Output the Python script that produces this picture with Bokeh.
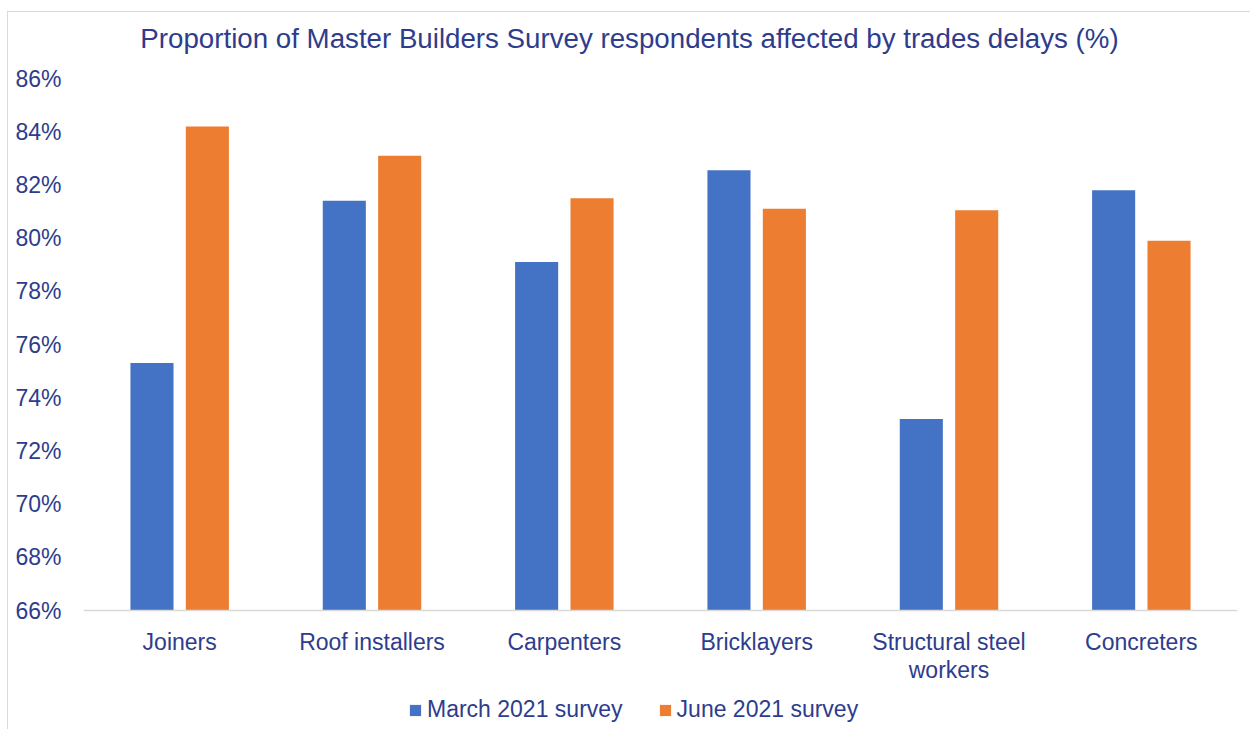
from bokeh.plotting import figure
from bokeh.models import FactorRange, Range1d, FixedTicker, PrintfTickFormatter, Legend, LegendItem, Label
from bokeh.transform import dodge
from bokeh.embed import file_html
from bokeh.resources import INLINE

# Survey results: share of respondents affected by delays, by trade (%)
categories = ["Joiners", "Roof installers", "Carpenters", "Bricklayers",
              "Structural steel\nworkers", "Concreters"]
march_2021 = [75.3, 81.4, 79.1, 82.55, 73.2, 81.8]
june_2021 = [84.2, 83.1, 81.5, 81.1, 81.05, 79.9]
y_ticks = [66, 68, 70, 72, 74, 76, 78, 80, 82, 84, 86]
title_text = "Proportion of Master Builders Survey respondents affected by trades delays (%)"

TEXT = "#2E3C8C"
FONT = "Liberation Sans"
BLUE = "#4472C4"
ORANGE = "#ED7D31"

# canvas geometry (px). The frame spans the full canvas height so the title,
# category labels and legend all sit inside it around the plotted band.
W, H = 1243, 718
LEFT, RIGHT = 75, 14
TOP_TICK, BASELINE = 66, 598        # canvas y of the 86% and 66% levels
Y0, Y1 = y_ticks[0], y_ticks[-1]
px_per_unit = (BASELINE - TOP_TICK) / (Y1 - Y0)
y_start = Y0 - (H - BASELINE) / px_per_unit
y_end = Y1 + TOP_TICK / px_per_unit
px_per_cat = (W - LEFT - RIGHT) / len(categories)

def data_x(canvas_x):
    return (canvas_x - LEFT) / px_per_cat

def data_y(canvas_y):
    return Y1 + (TOP_TICK - canvas_y) / px_per_unit

p = figure(
    x_range=FactorRange(*categories, range_padding=0),
    y_range=Range1d(y_start, y_end),
    width=W, height=H,
    output_backend="svg", toolbar_location=None,
    min_border_left=LEFT, min_border_right=RIGHT,
    min_border_top=0, min_border_bottom=0,
)
p.styles = {"margin-left": "7px", "margin-top": "11px",
            "border-left": "1px solid #d9d9d9", "border-top": "1px solid #d9d9d9"}
p.outline_line_color = None
p.grid.grid_line_color = None

src = dict(cat=categories, march=march_2021, june=june_2021)
r1 = p.vbar(x=dodge("cat", -0.144, range=p.x_range), top="march", bottom=Y0,
            width=0.224, source=src, fill_color=BLUE, line_color=None)
r2 = p.vbar(x=dodge("cat", 0.144, range=p.x_range), top="june", bottom=Y0,
            width=0.224, source=src, fill_color=ORANGE, line_color=None)

# chart title, centred on the whole chart area
p.add_layout(Label(x=data_x(621), y=data_y(26), text=title_text,
                   text_align="center", text_baseline="middle",
                   text_font=FONT, text_font_size="27.7px", text_color=TEXT))

ya = p.yaxis[0]
ya.ticker = FixedTicker(ticks=y_ticks)
ya.formatter = PrintfTickFormatter(format="%d%%")
ya.axis_line_color = None
ya.major_tick_line_color = None
ya.minor_tick_line_color = None
ya.major_label_standoff = 16
ya.major_label_text_font = FONT
ya.major_label_text_font_size = "23px"
ya.major_label_text_color = TEXT

xa = p.xaxis[0]
xa.fixed_location = Y0
xa.axis_line_color = "#d9d9d9"
xa.axis_line_width = 1.5
xa.major_tick_line_color = None
xa.minor_tick_line_color = None
xa.major_label_standoff = 12
xa.major_label_text_font = FONT
xa.major_label_text_font_size = "23px"
xa.major_label_text_color = TEXT
xa.major_label_text_line_height = 1.1

legend = Legend(
    items=[LegendItem(label="March 2021 survey", renderers=[r1]),
           LegendItem(label="June 2021 survey", renderers=[r2])],
    orientation="horizontal", location=(325, 7),
    label_text_font=FONT, label_text_font_size="23px", label_text_color=TEXT,
    glyph_width=14, glyph_height=14, label_standoff=5, spacing=35,
    border_line_color=None, background_fill_alpha=0, padding=0, margin=0,
)
p.add_layout(legend, "center")

open("out.html", "w").write(file_html(p, INLINE))
